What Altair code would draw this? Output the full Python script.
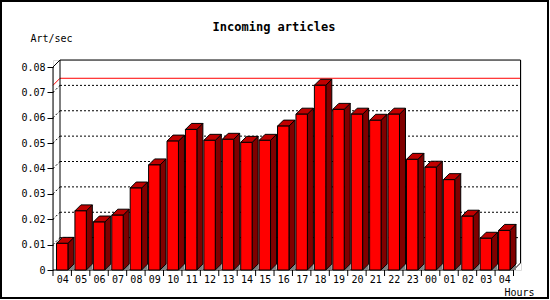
import altair as alt
import pandas as pd

# ---- data ----
hours = ["04", "05", "06", "07", "08", "09", "10", "11", "12", "13", "14", "15", "16",
         "17", "18", "19", "20", "21", "22", "23", "00", "01", "02", "03", "04"]
values = [0.0105, 0.0233, 0.0189, 0.0216, 0.0323, 0.0414, 0.0508, 0.0554, 0.0511,
          0.0515, 0.0503, 0.0511, 0.0567, 0.0614, 0.0728, 0.0633, 0.0614, 0.0590,
          0.0614, 0.0436, 0.0405, 0.0356, 0.0212, 0.0125, 0.0156]
y_ticks = [0, 0.01, 0.02, 0.03, 0.04, 0.05, 0.06, 0.07, 0.08]
title_text = "Incoming articles"
y_title = "Art/sec"
x_title = "Hours"

# ---- geometry / style constants ----
W, H = 468, 210
STEP = 18.42                 # px per hour slot
PXY = 0.01 / 25.375          # y units per pixel
XMAX = W / STEP
YMAX = H * PXY
BL, BR = 0.19, 0.81          # bar front face inside the slot
BDX, BDY = 6 / STEP, 6 * PXY  # bar depth
ADX, ADY = 7 / STEP, 7 * PXY  # axis/back plane depth
FONT = "DejaVu Sans Mono"
n = len(values)

xs = alt.Scale(domain=[0, XMAX], nice=False, zero=False)
ys = alt.Scale(domain=[0, YMAX], nice=False, zero=False)

label_expr = "[" + ",".join("'%s'" % h for h in hours) + "][floor(datum.value)]"
XAXIS = alt.Axis(
    values=[i + 0.5 for i in range(n)], labelExpr=label_expr, tickSize=0,
    domain=False, grid=False, labelFont=FONT, labelFontSize=10,
    labelColor="black", labelPadding=4, labelFlush=False, labelOverlap=False,
    title=x_title, titleFont=FONT, titleFontSize=10, titleFontWeight="normal",
    titleColor="black", titleAlign="right", titleAnchor="start",
    titleX=481, titleY=25, titleBaseline="alphabetic")
YAXIS = alt.Axis(
    values=y_ticks, labelExpr="datum.value == 0 ? '0' : format(datum.value, '.2f')",
    tickSize=6, tickColor="black", domain=False, grid=False, labelFont=FONT,
    labelFontSize=10, labelColor="black", labelPadding=2,
    title=y_title, titleFont=FONT, titleFontSize=10, titleFontWeight="normal",
    titleColor="black", titleAngle=0, titleAlign="left", titleAnchor="start",
    titleX=-23, titleY=-22, titleBaseline="middle")

# ---- tables built from the lists ----
front = pd.DataFrame({"id": range(n), "left": [i + BL for i in range(n)],
                      "right": [i + BR for i in range(n)], "v": values, "zero": 0.0})
side_rows, top_rows, shadow_rows = [], [], []
for i, v in enumerate(values):
    r, l = i + BR, i + BL
    side_rows += [{"id": i, "x": r, "y": 0.0, "y2": v},
                  {"id": i, "x": r + BDX, "y": BDY, "y2": v + BDY}]
    top_rows += [{"id": i, "y": v, "x": l, "x2": r},
                 {"id": i, "y": v + BDY, "x": l + BDX, "x2": r + BDX}]
    shadow_rows += [{"id": i, "x": r, "y": 0.0, "y2": 0.0},
                    {"id": i, "x": r + BDX, "y": BDY, "y2": 0.0}]
side = pd.DataFrame(side_rows)
top = pd.DataFrame(top_rows)
shadow = pd.DataFrame(shadow_rows)

grid_rows = []
for t in y_ticks[1:-1]:
    grid_rows.append({"x": ADX, "x2": ADX + n, "y": t + ADY, "y2": t + ADY})
    grid_rows.append({"x": 0.0, "x2": ADX, "y": t, "y2": t + ADY})
grid = pd.DataFrame(grid_rows)

ytop = y_ticks[-1]
frame = pd.DataFrame([
    {"x": ADX, "x2": ADX + n, "y": ytop + ADY, "y2": ytop + ADY},   # back top
    {"x": ADX, "x2": ADX, "y": ADY, "y2": ytop + ADY},              # back left
    {"x": ADX + n, "x2": ADX + n, "y": ADY, "y2": ytop + ADY},      # back right
    {"x": 0.0, "x2": ADX, "y": ytop, "y2": ytop + ADY},             # top diag
    {"x": n, "x2": ADX + n, "y": 0.0, "y2": ADY},                   # bottom-right diag
    {"x": 0.0, "x2": 0.0, "y": 0.0, "y2": ytop},                    # front y axis
    {"x": 0.0, "x2": float(n), "y": 0.0, "y2": 0.0},                # front x axis
])
vmax = max(values)
maxline = pd.DataFrame([
    {"x": ADX, "x2": ADX + n, "y": vmax + ADY, "y2": vmax + ADY},
    {"x": 0.0, "x2": ADX, "y": vmax, "y2": vmax + ADY},
])
xticks = pd.DataFrame({"k": [float(k) for k in range(n + 1)]})

def seg(df, **kw):
    return alt.Chart(df).mark_rule(**kw).encode(
        x=alt.X("x:Q", scale=xs, axis=XAXIS), x2="x2:Q",
        y=alt.Y("y:Q", scale=ys, axis=YAXIS), y2="y2:Q")

one = pd.DataFrame({"t": [title_text]})
border = alt.Chart(one).mark_rect(
    fill="white", fillOpacity=0, stroke="black", strokeWidth=2).encode(
    x=alt.value(-52), x2=alt.value(495), y=alt.value(-59), y2=alt.value(238))
title_layer = alt.Chart(one).mark_text(
    font=FONT, fontSize=12, fontWeight="bold", color="black",
    align="center", baseline="alphabetic").encode(
    text="t:N", x=alt.value(221), y=alt.value(-29))

grid_layer = seg(grid, color="black", strokeDash=[2, 2], strokeWidth=1)
frame_layer = seg(frame, color="black", strokeWidth=1)
max_layer = seg(maxline, color="#ff0000", strokeWidth=1)

shadow_layer = alt.Chart(shadow).mark_area(color="#808080", opacity=1).encode(
    x=alt.X("x:Q", scale=xs, axis=XAXIS), y=alt.Y("y:Q", scale=ys, axis=YAXIS),
    y2="y2:Q", detail="id:N")
side_layer = alt.Chart(side).mark_area(
    fill="#800000", stroke="black", strokeWidth=1, opacity=1).encode(
    x=alt.X("x:Q", scale=xs, axis=XAXIS), y=alt.Y("y:Q", scale=ys, axis=YAXIS),
    y2="y2:Q", detail="id:N")
top_layer = alt.Chart(top).mark_area(
    orient="horizontal", fill="#c00000", stroke="black", strokeWidth=1, opacity=1).encode(
    y=alt.Y("y:Q", scale=ys, axis=YAXIS), x=alt.X("x:Q", scale=xs, axis=XAXIS),
    x2="x2:Q", detail="id:N")
front_layer = alt.Chart(front).mark_rect(
    fill="#ff0000", stroke="black", strokeWidth=1).encode(
    x=alt.X("left:Q", scale=xs, axis=XAXIS), x2="right:Q",
    y=alt.Y("zero:Q", scale=ys, axis=YAXIS), y2="v:Q")
tick_layer = alt.Chart(xticks).mark_rule(color="black", strokeWidth=1).encode(
    x=alt.X("k:Q", scale=xs, axis=XAXIS), y=alt.value(H), y2=alt.value(H + 6))

chart = alt.layer(
    border, title_layer, grid_layer, max_layer, frame_layer, shadow_layer, side_layer,
    top_layer, front_layer, tick_layer
).properties(
    width=W, height=H,
    autosize=alt.AutoSizeParams(type="none"),
    padding={"left": 53, "top": 60, "right": 550 - 53 - W, "bottom": 300 - 60 - H},
).configure_view(stroke=None).configure(background="white")

chart.save("out.html", embed_options={"renderer": "svg", "actions": False})
